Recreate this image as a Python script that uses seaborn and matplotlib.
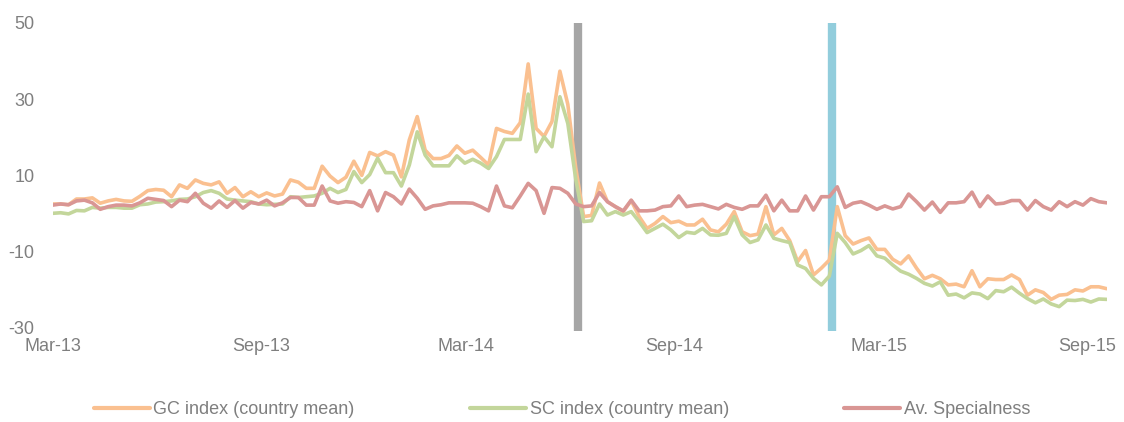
import numpy as np
import pandas as pd
import matplotlib
matplotlib.use("Agg")
import matplotlib.pyplot as plt
import matplotlib.dates as mdates
import seaborn as sns

# ---------------- data ----------------
start_date = "2013-03-01"
n_weeks = 134

gc_index = [
    2.5, 2.5, 2.3, 3.8, 3.8, 4.1, 2.7, 3.3, 3.7, 3.3, 3.2, 4.5, 6.0, 6.3, 6.1, 4.4, 7.5, 6.6, 8.8, 7.9,
    7.5, 8.3, 5.3, 6.8, 4.4, 5.7, 4.4, 5.4, 4.6, 5.1, 8.8, 8.2, 6.6, 6.6, 12.4, 9.8, 8.1, 9.5, 13.7, 10.0,
    16.0, 15.1, 16.2, 15.3, 9.6, 19.3, 25.4, 16.6, 14.4, 14.4, 15.2, 17.7, 15.8, 16.6, 14.7, 12.7, 22.3, 21.5, 21.0, 23.8,
    39.2, 22.3, 20.2, 24.1, 37.3, 28.6, 12.0, -0.8, -0.5, 8.0, 3.1, 1.8, 0.5, 3.4, -0.8, -3.9, -2.6, -0.8, -2.4, -2.0,
    -3.0, -3.0, -1.5, -4.3, -4.8, -2.8, 0.5, -4.8, -5.8, -5.4, 1.8, -5.6, -3.9, -7.1, -12.6, -9.7, -16.1, -14.3, -12.2, 1.8,
    -5.8, -8.0, -7.1, -6.4, -9.4, -9.4, -12.0, -13.2, -11.1, -14.3, -17.1, -16.2, -17.1, -18.7, -18.5, -19.2, -15.0, -19.2, -17.1, -17.3,
    -17.3, -16.1, -17.3, -21.4, -20.0, -20.7, -22.5, -21.4, -21.2, -20.0, -20.3, -19.2, -19.2, -19.7,
]

sc_index = [
    0.05, 0.2, -0.1, 0.8, 0.7, 1.6, 1.4, 1.6, 1.6, 1.4, 1.4, 2.3, 2.5, 3.0, 3.1, 3.3, 3.7, 3.8, 4.4, 5.5,
    6.0, 5.3, 3.8, 3.5, 3.3, 3.1, 2.5, 2.3, 2.4, 2.5, 4.4, 4.2, 4.4, 4.6, 5.3, 6.6, 5.5, 6.3, 11.0, 8.1,
    10.2, 14.5, 10.7, 10.7, 7.2, 12.7, 21.4, 15.3, 12.5, 12.5, 12.5, 15.1, 13.2, 14.2, 13.2, 11.8, 14.9, 19.4, 19.4, 19.4,
    31.3, 16.2, 20.1, 17.5, 30.6, 23.6, 9.0, -2.1, -1.9, 2.5, -0.4, 0.5, -0.4, 0.5, -2.1, -5.0, -3.9, -2.8, -4.3, -6.3,
    -4.9, -5.2, -3.9, -5.6, -5.7, -5.2, -0.8, -5.6, -7.6, -6.9, -3.0, -6.5, -7.1, -7.6, -13.5, -14.4, -17.0, -18.7, -16.4, -5.2,
    -7.6, -10.6, -9.7, -8.4, -11.1, -11.7, -13.5, -15.1, -15.9, -17.0, -18.3, -19.0, -17.9, -21.4, -21.1, -22.1, -20.8, -21.1, -22.3, -20.2,
    -20.5, -19.3, -20.9, -22.3, -23.4, -22.4, -23.7, -24.4, -22.7, -22.8, -22.5, -23.2, -22.4, -22.5,
]

av_specialness = [
    2.2, 2.5, 2.3, 3.3, 3.5, 2.8, 1.1, 1.8, 2.2, 2.2, 2.0, 2.8, 4.0, 3.7, 3.4, 1.8, 3.5, 3.1, 5.3, 2.7,
    1.4, 3.3, 1.6, 3.4, 1.4, 2.9, 2.5, 3.5, 2.0, 2.8, 4.2, 4.2, 2.2, 2.2, 7.2, 3.3, 2.7, 3.1, 2.9, 1.8,
    6.0, 0.7, 5.5, 4.4, 2.5, 6.4, 4.0, 1.1, 2.0, 2.3, 2.8, 2.8, 2.8, 2.7, 1.8, 0.7, 7.2, 2.0, 1.5, 4.6,
    7.9, 6.0, 0.05, 6.8, 6.6, 5.3, 2.5, 1.8, 2.0, 5.5, 3.1, 1.8, 0.7, 3.5, 0.7, 0.7, 0.9, 1.8, 2.0, 4.6,
    1.8, 2.2, 2.4, 1.8, 1.2, 2.4, 1.6, 1.1, 2.0, 2.0, 4.8, 0.7, 3.5, 0.7, 0.7, 4.6, 0.9, 4.4, 4.4, 7.0,
    1.6, 2.7, 3.1, 2.2, 1.1, 2.0, 1.2, 1.8, 5.1, 3.1, 0.9, 3.0, 0.3, 2.8, 2.8, 3.1, 5.6, 1.8, 4.6, 2.5,
    2.7, 3.4, 3.4, 0.9, 3.4, 1.8, 0.9, 3.1, 1.8, 3.1, 2.2, 3.9, 3.1, 2.8,
]

series_names = ["GC index (country mean)", "SC index (country mean)", "Av. Specialness"]
series_colors = ["#FAC090", "#C3D69B", "#D99694"]

event_dates = ["2014-06-08", "2015-01-18"]
event_colors = ["#A6A6A6", "#92CDDC"]

tick_dates = ["2013-03-01", "2013-09-01", "2014-03-01", "2014-09-01", "2015-03-01", "2015-09-01"]
tick_labels = ["Mar-13", "Sep-13", "Mar-14", "Sep-14", "Mar-15", "Sep-15"]
y_ticks = [-30, -10, 10, 30, 50]

# ---------------- frame ----------------
dates = pd.date_range(start_date, periods=n_weeks, freq="7D")
df = pd.DataFrame({
    "date": dates,
    series_names[0]: gc_index,
    series_names[1]: sc_index,
    series_names[2]: av_specialness,
})
long = df.melt(id_vars="date", var_name="series", value_name="value")

sns.set_theme(style="white")
plt.rcParams["font.family"] = ["Liberation Sans", "DejaVu Sans"]
plt.rcParams["axes.unicode_minus"] = False
text_color = "#7F7F7F"

fig = plt.figure(figsize=(11.24, 4.22), dpi=100)
ax = fig.add_axes([52.7 / 1124, 1 - 328 / 422, (1106.7 - 52.7) / 1124, (328 - 22.7) / 422])

for d, c in zip(event_dates, event_colors):
    ax.axvline(pd.Timestamp(d), ymin=-0.01, ymax=1.0, color=c, linewidth=6, zorder=1,
               solid_capstyle="butt", clip_on=False)

sns.lineplot(data=long, x="date", y="value", hue="series", hue_order=series_names,
             palette=series_colors, linewidth=2.6, ax=ax, legend=False, zorder=3)

ax.set_xlim(dates[0], dates[-1])
ax.set_ylim(-30, 50)
ax.set_yticks(y_ticks)
ax.set_xticks([pd.Timestamp(t) for t in tick_dates])
ax.set_xticklabels(tick_labels)
ax.set_xlabel("")
ax.set_ylabel("")
ax.tick_params(axis="both", length=0, labelsize=13, colors=text_color)
ax.tick_params(axis="y", pad=13)
ax.tick_params(axis="x", pad=7)
for s in ax.spines.values():
    s.set_visible(False)
ax.grid(False)

handles = [plt.Line2D([], [], color=c, linewidth=3) for c in series_colors]
fig.legend(handles, series_names, loc="center", bbox_to_anchor=(0.5, 0.03), ncol=3,
           frameon=False, handlelength=3.1, handletextpad=0.2, columnspacing=6.4,
           fontsize=13, labelcolor=text_color)

fig.savefig("out.png", dpi=100)
